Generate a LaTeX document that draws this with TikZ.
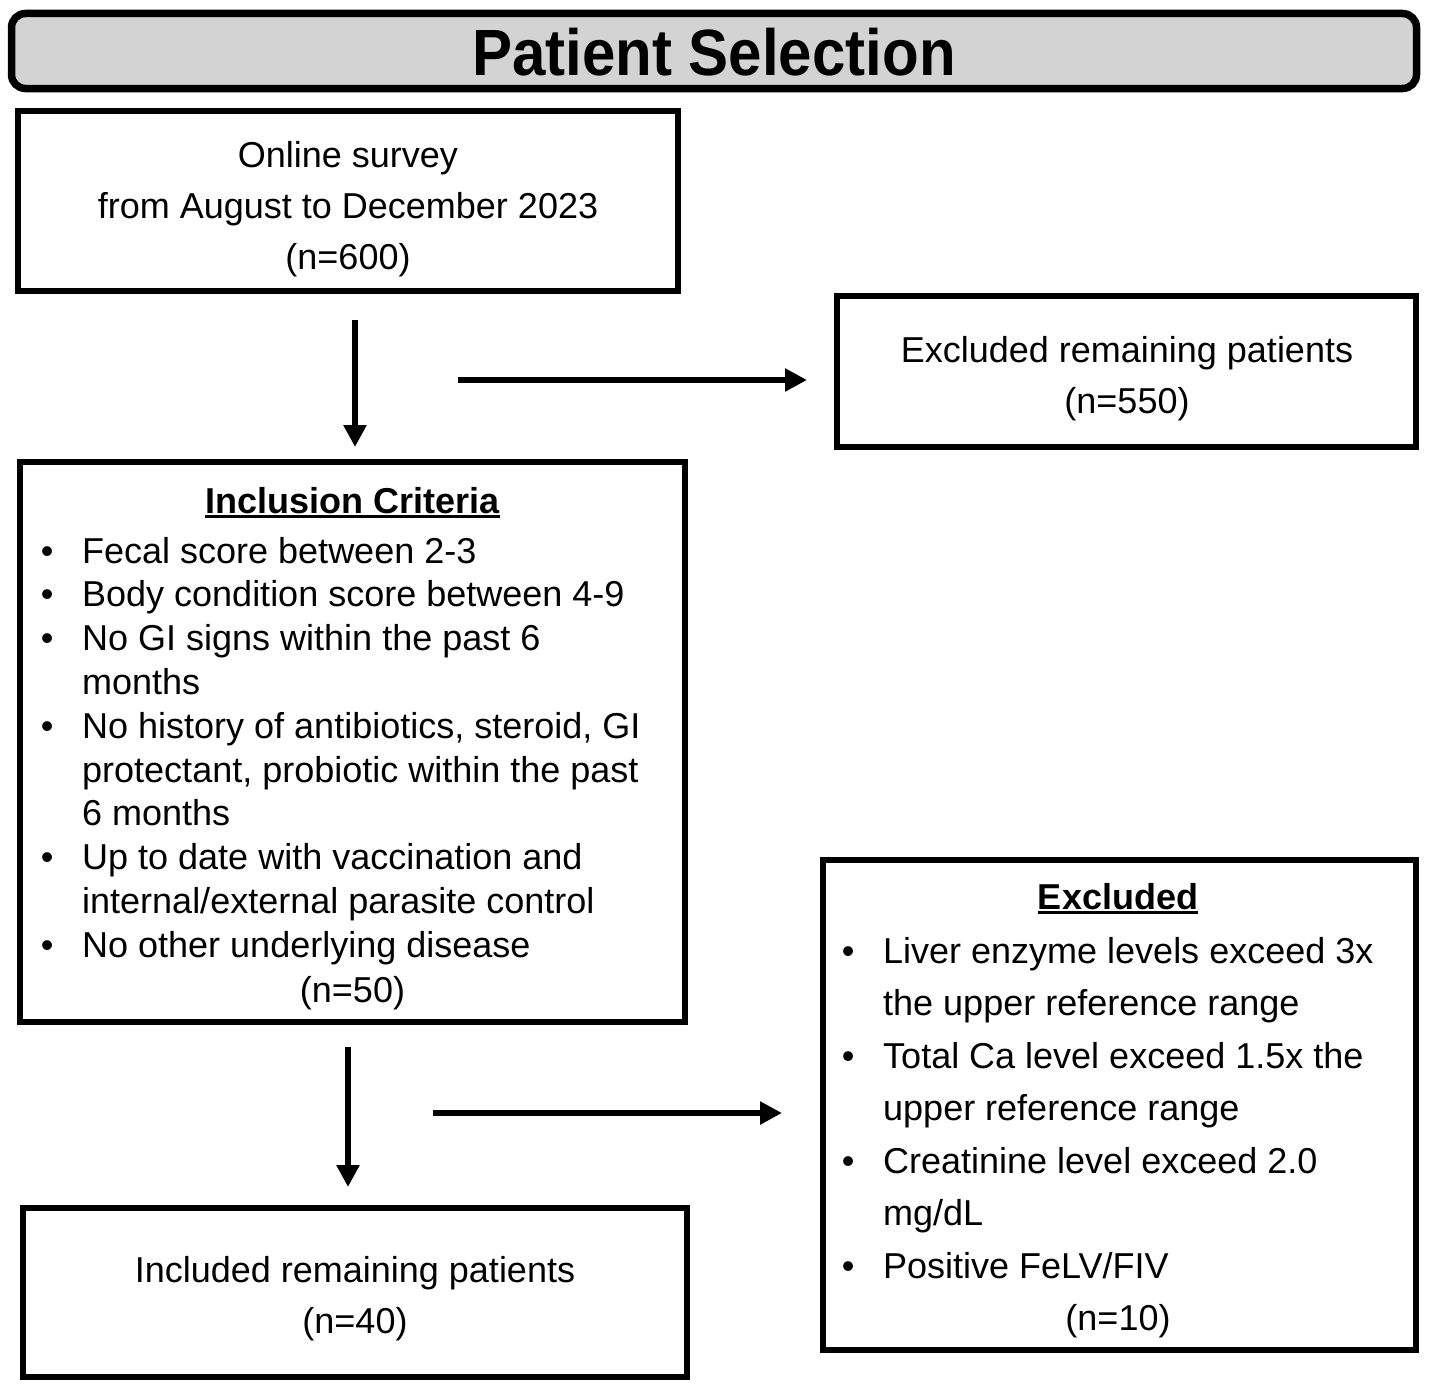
\documentclass[tikz,border=0pt]{standalone}
\usepackage{fontspec}
\setmainfont{Liberation Sans}
\usetikzlibrary{arrows.meta}
\definecolor{titlegray}{RGB}{211,211,211}
\newcommand\ulbold[1]{\setbox0\hbox{#1}\rlap{\rule[-5pt]{\wd0}{2.6pt}}\box0}
\begin{document}
\begin{tikzpicture}[x=1pt,y=-1pt,
  box/.style={draw, line width=5.5pt, rectangle, inner sep=0pt},
  titlebar/.style={draw, line width=7.5pt, rectangle, rounded corners=14pt, fill=titlegray, inner sep=0pt},
  txt/.style={inner sep=0pt, anchor=base, font=\fontsize{36}{51}\selectfont},
  listtxt/.style={inner sep=0pt, anchor=base west},
  arr/.style={line width=6.5pt, -{Triangle[length=22pt,width=22pt]}}
]
\useasboundingbox (0,0) rectangle (1429,1389);

% title bar
\node[titlebar, minimum width=1405pt, minimum height=75pt] (title) at (714,51) {};
\node[inner sep=0pt, anchor=base, font=\fontsize{60}{70}\selectfont\bfseries] (titletext) at (714,75) {\scalebox{1}[1.09]{Patient Selection}};

% box 1: survey
\node[box, minimum width=660pt, minimum height=180pt] (survey) at (348,201) {};
\node[txt] (surveytext) at (348,167) {\begin{tabular}[t]{@{}c@{}}Online survey\\from August to December 2023\\(n=600)\end{tabular}};

% box 2: excluded remaining
\node[box, minimum width=579pt, minimum height=151pt] (exrem) at (1126.5,371.5) {};
\node[txt] (exremtext) at (1127,362) {\begin{tabular}[t]{@{}c@{}}Excluded remaining patients\\(n=550)\end{tabular}};

% box 3: inclusion criteria
\node[box, minimum width=665pt, minimum height=560pt] (incl) at (352.5,742) {};
\node[txt, font=\fontsize{36}{44}\selectfont\bfseries] (incltitle) at (352.5,513) {\ulbold{Inclusion Criteria}};
\node[listtxt, font=\fontsize{36}{43.8}\selectfont] (incllist) at (40.7,563) {\begin{tabular}[t]{@{}p{41.3pt}@{}l@{}}
• & Fecal score between 2-3\\
• & Body condition score between 4-9\\
• & No GI signs within the past 6\\
  & months\\
• & No history of antibiotics, steroid, GI\\
  & protectant, probiotic within the past\\
  & 6 months\\
• & Up to date with vaccination and\\
  & internal/external parasite control\\
• & No other underlying disease
\end{tabular}};
\node[txt] (incln) at (352.5,1002) {(n=50)};

% box 4: excluded
\node[box, minimum width=593pt, minimum height=490pt] (excl) at (1119.5,1105) {};
\node[txt, font=\fontsize{36}{44}\selectfont\bfseries] (excltitle) at (1118,909) {\ulbold{Excluded}};
\node[listtxt, font=\fontsize{36}{52.5}\selectfont] (excllist) at (841.7,963) {\begin{tabular}[t]{@{}p{41.3pt}@{}l@{}}
• & Liver enzyme levels exceed 3x\\
  & the upper reference range\\
• & Total Ca level exceed 1.5x the\\
  & upper reference range\\
• & Creatinine level exceed 2.0\\
  & mg/dL\\
• & Positive FeLV/FIV
\end{tabular}};
\node[txt] (excln) at (1118,1330) {(n=10)};

% box 5: included remaining
\node[box, minimum width=664pt, minimum height=169pt] (inrem) at (355,1292.5) {};
\node[txt] (inremtext) at (355,1282) {\begin{tabular}[t]{@{}c@{}}Included remaining patients\\(n=40)\end{tabular}};

% connectors
\coordinate (a1s) at (355,320);
\coordinate (a1e) at (355,447);
\coordinate (a2s) at (458,380);
\coordinate (a2e) at (807,380);
\coordinate (a3s) at (348,1047);
\coordinate (a3e) at (348,1187);
\coordinate (a4s) at (433,1113);
\coordinate (a4e) at (782,1113);
\draw[arr] (a1s) -- (a1e);
\draw[arr] (a2s) -- (a2e);
\draw[arr] (a3s) -- (a3e);
\draw[arr] (a4s) -- (a4e);
\end{tikzpicture}
\end{document}
